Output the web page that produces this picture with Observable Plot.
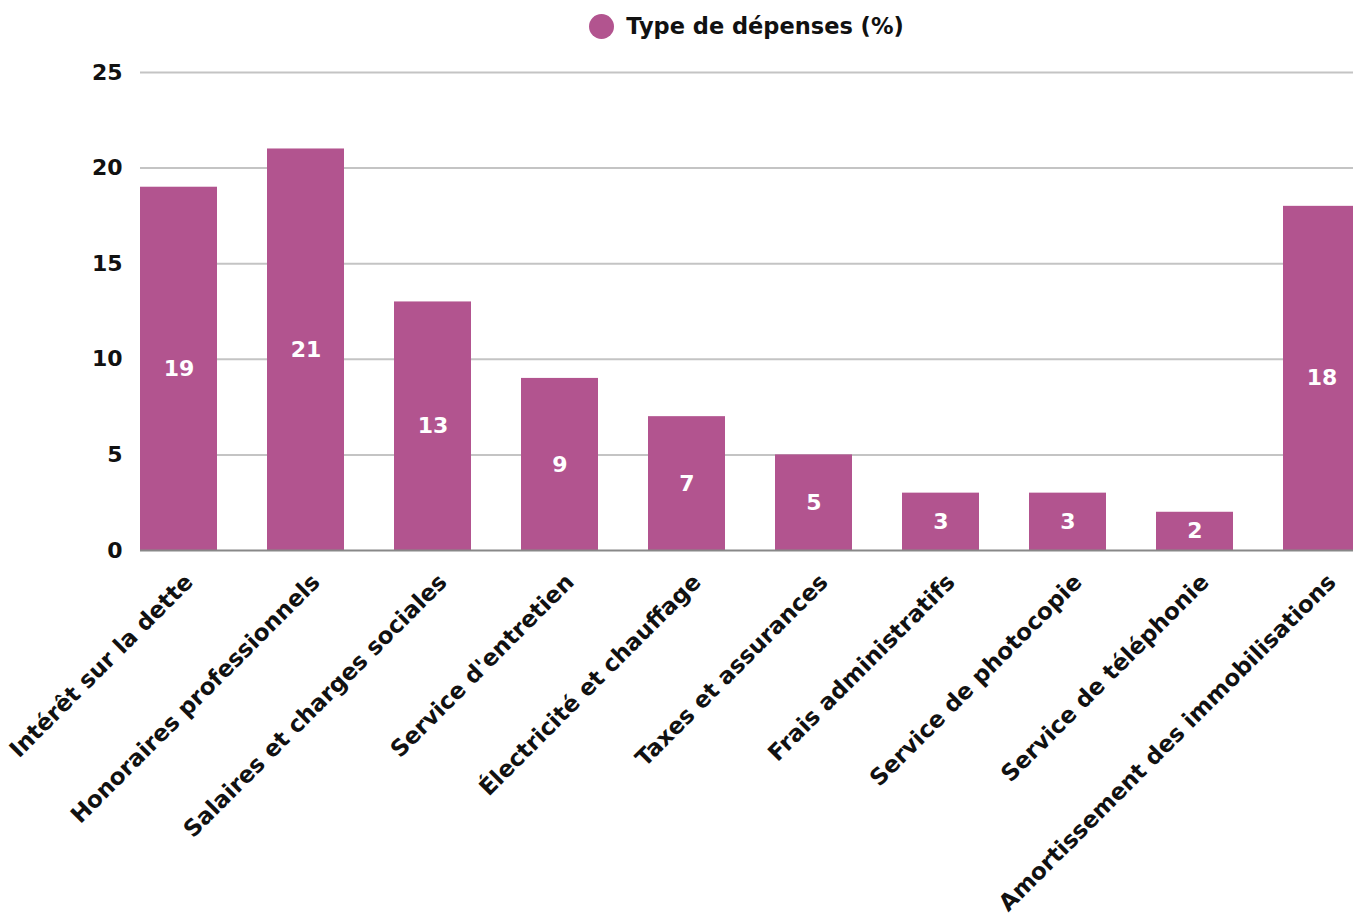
<!DOCTYPE html>
<html><head><meta charset="utf-8">
<script src="https://cdn.jsdelivr.net/npm/d3@7"></script>
<script src="https://cdn.jsdelivr.net/npm/@observablehq/plot@0.6"></script>
<style>
body{margin:0;background:#fff;overflow:hidden;font-family:"DejaVu Sans",sans-serif;}
#legend{height:52px;display:flex;align-items:center;justify-content:center;padding-left:140px;box-sizing:border-box;width:1353px;font-weight:700;font-size:22.5px;color:#111;}
#legend span.dot{display:inline-block;width:25px;height:25px;border-radius:50%;background:#b2548f;margin-right:12px;}
</style></head>
<body>
<div id="legend"><span class="dot"></span><span>Type de dépenses (%)</span></div>
<div id="chart"></div>
<script>
const categories = ["Intérêt sur la dette","Honoraires professionnels","Salaires et charges sociales","Service d'entretien","Électricité et chauffage","Taxes et assurances","Frais administratifs","Service de photocopie","Service de téléphonie","Amortissement des immobilisations"];
const values = [19,21,13,9,7,5,3,3,2,18];
const yTicks = [0,5,10,15,20,25];
const data = categories.map((c,i)=>({c, v: values[i]}));
const chart = Plot.plot({
  width: 1353, height: 865,
  marginTop: 20, marginBottom: 367, marginLeft: 140, marginRight: 0,
  style: {fontFamily: "'DejaVu Sans', sans-serif", fontWeight: 700, fontSize: "22px", color: "#111", overflow: "hidden"},
  x: {domain: categories, range: [140, 1360], paddingInner: 50/127, paddingOuter: 0, align: 0, round: false},
  y: {domain: [0,25], ticks: yTicks},
  marks: [
    Plot.gridY(yTicks.filter(d=>d>0), {stroke: "#c4c4c4", strokeOpacity: 1, strokeWidth: 2}),
    Plot.barY(data, {x: "c", y: "v", fill: "#b2548f"}),
    Plot.ruleY([0], {stroke: "#888", strokeWidth: 2}),
    Plot.text(data, {x: "c", y: d=>d.v/2, text: d=>String(d.v), fill: "white", fontSize: 22, fontWeight: 700}),
    Plot.axisY(yTicks, {tickSize: 0, tickPadding: 0, dx: -18, fontSize: 22, fontWeight: 700, label: null}),
    Plot.axisX({tickSize: 0, tickRotate: -45, fontSize: 23, fontWeight: 700, label: null, dx: 10, dy: 16, textAnchor: "end"})
  ]
});
document.getElementById("chart").appendChild(chart);
</script>
</body></html>
